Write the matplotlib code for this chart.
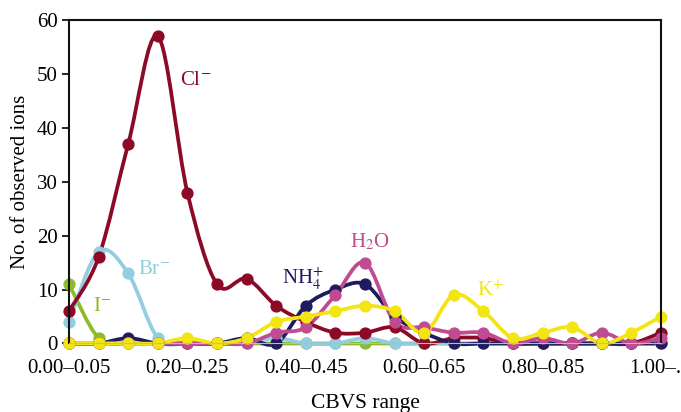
import numpy as np
import matplotlib
matplotlib.use('Agg')
import matplotlib.pyplot as plt
from matplotlib.path import Path
from matplotlib.patches import PathPatch

plt.rcParams['font.family'] = ['Liberation Serif', 'DejaVu Serif']
plt.rcParams['mathtext.fontset'] = 'stix'

# CBVS bins 0.00-0.05 ... 1.00-...
ranges = ['0.00–0.05', '0.05–0.10', '0.10–0.15', '0.15–0.20', '0.20–0.25',
          '0.25–0.30', '0.30–0.35', '0.35–0.40', '0.40–0.45', '0.45–0.50',
          '0.50–0.55', '0.55–0.60', '0.60–0.65', '0.65–0.70', '0.70–0.75',
          '0.75–0.80', '0.80–0.85', '0.85–0.90', '0.90–0.95', '0.95–1.00',
          '1.00–...']

iodide   = [11, 1, 0, 0, 0, 0, 0, 0, 0, 0, 0, 0, 0, 0, 0, 0, 0, 0, 0, 0, 0]
bromide  = [4, 17, 13, 1, 0, 0, 0, 1, 0, 0, 1, 0, 0, 0, 0, 0, 0, 0, 0, 0, 0]
chloride = [6, 16, 37, 57, 28, 11, 12, 7, 4, 2, 2, 3, 0, 1, 1, 0, 0, 0, 0, 0, 2]
ammonium = [0, 0, 1, 0, 0, 0, 1, 0, 7, 10, 11, 5, 2, 0, 0, 0, 0, 0, 0, 0, 0]
water    = [0, 0, 0, 0, 0, 0, 0, 2, 3, 9, 15, 4, 3, 2, 2, 0, 1, 0, 2, 0, 1]
potass   = [0, 0, 0, 0, 1, 0, 1, 4, 5, 6, 7, 6, 2, 9, 6, 1, 2, 3, 0, 2, 5]

series = [
    (iodide,   '#8dbb2c', r'I$^{-}$',          (0.82, 6.0)),
    (bromide,  '#93cde0', r'Br$^{-}$',         (2.33, 12.9)),
    (chloride, '#8b0a26', r'Cl$^{-}$',         (3.75, 47.9)),
    (ammonium, '#1e1b5e', r'NH$_4^{+}$',       (7.2, 11.0)),
    (water,    '#bf4c92', r'H$_2$O',           (9.5, 17.9)),
    (potass,   '#f3e512', r'K$^{+}$',          (13.8, 8.8)),
]


def smooth_path(xs, ys):
    # excel style smoothed line: cubic bezier through every point
    pts = np.column_stack([xs, ys]).astype(float)
    n = len(pts)
    verts = [pts[0]]
    codes = [Path.MOVETO]
    for i in range(n - 1):
        p0 = pts[i - 1] if i > 0 else pts[i]
        p1 = pts[i]
        p2 = pts[i + 1]
        p3 = pts[i + 2] if i + 2 < n else pts[i + 1]
        verts += [p1 + (p2 - p0) / 6, p2 - (p3 - p1) / 6, p2]
        codes += [Path.CURVE4] * 3
    return Path(verts, codes)


fig = plt.figure(figsize=(6.81, 4.12), dpi=100)
ax = fig.add_axes([0.1013, 0.1663, 0.8693, 0.7852])

x = np.arange(len(ranges))
for vals, col, lab, (tx, ty) in series:
    ax.add_patch(PathPatch(smooth_path(x, vals), fill=False, edgecolor=col,
                           lw=2.7, clip_on=False, capstyle='round'))
    ax.plot(x, vals, 'o', color=col, ms=7.8, clip_on=False)
    ax.text(tx, ty, lab, color=col, fontsize=15, va='baseline', ha='left')

ax.set_xlim(0, len(ranges) - 1)
ax.set_ylim(0, 60)
ax.set_yticks(range(0, 61, 10))
ax.set_xticks(x[::4])
ax.set_xticklabels(ranges[::4])
ax.tick_params(axis='x', length=0, pad=11, labelsize=15)
ax.tick_params(axis='y', direction='out', length=5, width=1.2, pad=3, labelsize=15)

ax.set_xlabel('CBVS range', fontsize=15.5, labelpad=12)
ax.set_ylabel('No. of observed ions', fontsize=15, labelpad=5)

for s in ['left', 'top', 'right']:
    ax.spines[s].set_color('#111111')
    ax.spines[s].set_linewidth(1.5)
ax.spines['bottom'].set_color('#bbbbbb')

fig.savefig('out.png', dpi=100)
